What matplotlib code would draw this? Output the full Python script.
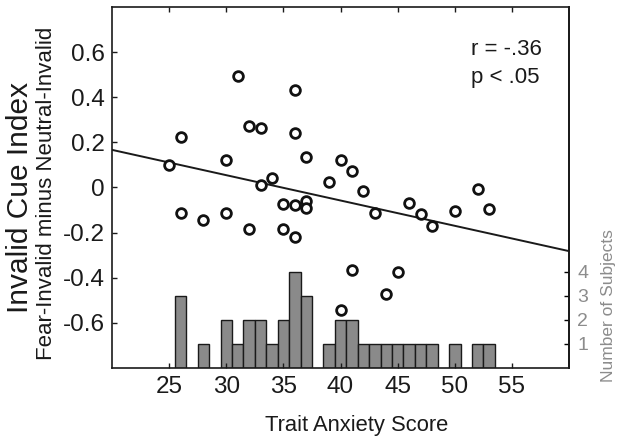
import matplotlib
matplotlib.use("Agg")
import matplotlib.pyplot as plt
import numpy as np

plt.rcParams['font.family'] = ['Liberation Sans', 'DejaVu Sans']

# === datos del diagrama de dispersion ===
anxiety = [25, 26, 26, 28, 30, 30, 31, 32, 32, 33, 33, 34, 35, 35,
           36, 36, 36, 36, 37, 37, 37, 39, 40, 40, 41, 41, 42, 43,
           44, 45, 46, 47, 48, 50, 52, 53]
cue_index = [0.10, 0.225, -0.113, -0.142, 0.122, -0.113, 0.496, 0.273, -0.186, 0.262, 0.009, 0.044, -0.072, -0.183,
             0.433, 0.242, -0.079, -0.218, 0.137, -0.062, -0.091, 0.026, 0.122, -0.542, 0.075, -0.364, -0.015, -0.113,
             -0.470, -0.374, -0.069, -0.116, -0.172, -0.103, -0.006, -0.094]

# === histograma (numero de sujetos por puntaje) ===
hist_scores = [26, 28, 30, 31, 32, 33, 34, 35, 36, 37, 39, 40, 41,
               42, 43, 44, 45, 46, 47, 48, 50, 52, 53]
hist_counts = [3, 1, 2, 1, 2, 2, 1, 2, 4, 3, 1, 2, 2,
               1, 1, 1, 1, 1, 1, 1, 1, 1, 1]

x_ticks = [25, 30, 35, 40, 45, 50, 55]
y_ticks = [-0.6, -0.4, -0.2, 0, 0.2, 0.4, 0.6]
y_tick_labels = ["-0.6", "-0.4", "-0.2", "0", "0.2", "0.4", "0.6"]
count_ticks = [1, 2, 3, 4]

fig = plt.figure(figsize=(6.24, 4.43), dpi=100)
ax = fig.add_axes([0.1795, 0.1693, 0.7325, 0.8149])
ax2 = ax.twinx()

# barras en el eje secundario
ax2.bar(hist_scores, hist_counts, width=1.0, color="#8a8a8a", edgecolor="#1a1a1a", linewidth=1.0)
ax2.set_ylim(0, 15)
ax2.set_yticks(count_ticks)
ax2.tick_params(axis='y', direction='in', length=3.5, width=1.0, labelsize=14,
                labelcolor="#8c8c8c", pad=6)
for s in ["top", "left", "bottom"]:
    ax2.spines[s].set_visible(False)
ax2.spines["right"].set_linewidth(1.2)

ax.set_zorder(ax2.get_zorder() + 1)
ax.patch.set_visible(False)

# recta de regresion
pendiente, intercepto = np.polyfit(anxiety, cue_index, 1)
xs = np.array([20, 60])
ax.plot(xs, pendiente * xs + intercepto, color="#1a1a1a", linewidth=1.4)

ax.plot(anxiety, cue_index, 'o', markersize=7, markerfacecolor='white',
        markeredgecolor='#111111', markeredgewidth=2.0, linestyle='none')

ax.set_xlim(20, 60)
ax.set_ylim(-0.8, 0.8)
ax.set_xticks(x_ticks)
ax.set_yticks(y_ticks)
ax.set_yticklabels(y_tick_labels)
ax.tick_params(axis='both', direction='in', length=3.5, width=1.0, labelsize=17.5,
               top=True, right=False, colors="#1a1a1a")
ax.tick_params(axis='x', pad=6)
ax.tick_params(axis='y', pad=5)
for s in ax.spines.values():
    s.set_linewidth(1.2)
    s.set_color("#1a1a1a")

ax.text(0.785, 0.867, "r = -.36", transform=ax.transAxes, fontsize=16, va='baseline', color="#1a1a1a")
ax.text(0.785, 0.789, "p < .05", transform=ax.transAxes, fontsize=16, va='baseline', color="#1a1a1a")

fig.text(357 / 624, 1 - 425 / 443, "Trait Anxiety Score", fontsize=15.8, ha='center', va='center', color="#1a1a1a")
fig.text(20 / 624, 1 - 197 / 443, "Invalid Cue Index", fontsize=21.5, rotation=90, ha='center', va='center', color="#1a1a1a")
fig.text(46.5 / 624, 1 - 193.5 / 443, "Fear-Invalid minus Neutral-Invalid", fontsize=16, rotation=90,
         ha='center', va='center', color="#1a1a1a")
fig.text(609 / 624, 1 - 306 / 443, "Number of Subjects", fontsize=12.5, rotation=90, ha='center', va='center',
         color="#8c8c8c")

fig.savefig("out.png", dpi=100)
plt.close(fig)
